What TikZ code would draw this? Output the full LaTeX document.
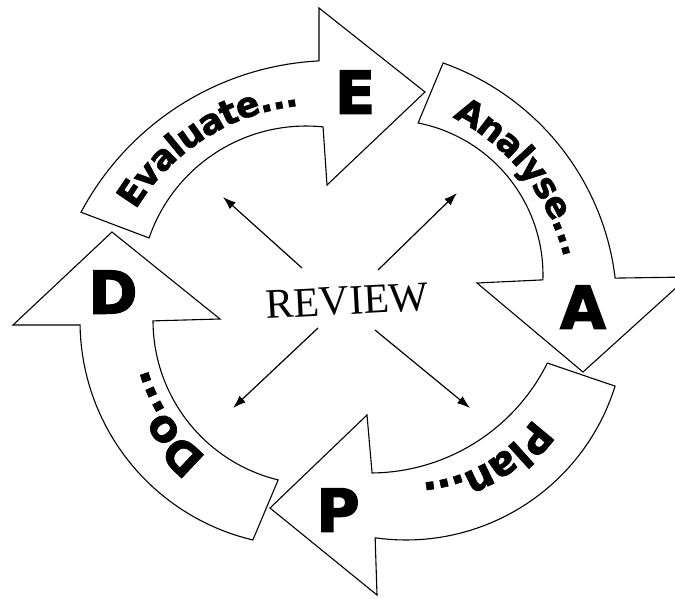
\documentclass[tikz,border=0pt]{standalone}
\usepackage{fontspec}
\setmainfont{Liberation Serif}
\newfontfamily\heavy{DejaVu Sans}[BoldFeatures={FakeBold=1.5}]
\newfontfamily\heavier{DejaVu Sans}[BoldFeatures={FakeBold=2.5}]
\usetikzlibrary{decorations.text,arrows.meta}
\newcommand\evfont{\heavy\bfseries\fontsize{35}{35}\selectfont}
\newcommand\anfont{\heavy\bfseries\fontsize{35}{35}\selectfont}
\newcommand\plfont{\heavy\bfseries\fontsize{40}{40}\selectfont}
\newcommand\dofont{\heavy\bfseries\fontsize{44}{44}\selectfont}
\begin{document}
\begin{tikzpicture}[x=1pt,y=-1pt,
  bigarrow/.style={draw=black, line width=1.1pt, fill=white, line join=miter},
  letter/.style={font=\heavier\bfseries\fontsize{59}{59}\selectfont, inner sep=0pt},
  spoke/.style={line width=1.2pt, -{Latex[length=13pt,width=9pt]}},
  curvetext/.style={decorate, decoration={text along path, text align={center}, #1}}]
\useasboundingbox (0,0) rectangle (675,598);
\clip (0,0) rectangle (675,598);
% D arrow (left, pointing up)
\draw[bigarrow] plot[domain=103.3:179.1, samples=40] ({304.5+224.5*cos(\x)},{321.5+224.5*sin(\x)})
  -- (13,325) -- (112,232) -- (220,319)
  -- plot[domain=179.9:103.7, samples=40] ({317+164*cos(\x)},{320.6+164*sin(\x)}) -- cycle;
% E arrow (top, pointing right)
\draw[bigarrow] plot[domain=-152:-92.9, samples=40] ({333.5+286*cos(\x)},{346.5+286*sin(\x)})
  -- (319,8) -- (425,92) -- (327,185)
  -- plot[domain=-84.1:-161, samples=40] ({306+166*cos(\x)},{292+166*sin(\x)}) -- cycle;
% A arrow (right, pointing down)
\draw[bigarrow] plot[domain=-70.5:-6.8, samples=40] ({356+261*cos(\x)},{309+261*sin(\x)})
  -- (688,277) -- (583,372) -- (477,283)
  -- plot[domain=1.8:-78.8, samples=40] ({388+155*cos(\x)},{275+155*sin(\x)}) -- cycle;
% P arrow (bottom, pointing left)
\draw[bigarrow] plot[domain=17.3:98.1, samples=40] ({406+219*cos(\x)},{321+219*sin(\x)})
  -- (377,595) -- (270,508) -- (367,415)
  -- plot[domain=89.4:26.4, samples=40] ({370+198*cos(\x)},{275+198*sin(\x)}) -- cycle;
% head letters
\node[letter] (lE) at (355,92) {E};
\node[letter] (lA) at (583,307) {A};
\node[letter] (lP) at (338,510) {P};
\node[letter] (lD) at (113,292) {D};
% curved labels
\path[curvetext={text={|\evfont|Evaluate...}, raise=-12.6pt}]
  plot[domain=-162.5:-82.5, samples=80] ({322+230*cos(\x)},{322+230*sin(\x)});
\path[curvetext={text={|\anfont|Analyse...}, raise=-12.6pt}]
  plot[domain=-78.5:1.5, samples=80] ({356+227*cos(\x)},{309+227*sin(\x)});
\path[curvetext={text={|\plfont|Plan...}, raise=-14.6pt}]
  plot[domain=20:100, samples=80] ({409+166*cos(\x)},{332+166*sin(\x)});
\path[curvetext={text={|\dofont|Do...}, raise=-16pt}]
  plot[domain=110:182, samples=80] ({310.6+186*cos(\x)},{322+186*sin(\x)});
% centre
\node[font=\fontsize{42}{42}\selectfont, rotate=3, inner sep=0pt] (rev) at (347,301) {REVIEW};
\coordinate (nwS) at (302,268); \coordinate (nwT) at (223,197);
\coordinate (neS) at (378,270); \coordinate (neT) at (457,193);
\coordinate (swS) at (318,328); \coordinate (swT) at (233,408);
\coordinate (seS) at (375,330); \coordinate (seT) at (470,408);
\draw[spoke] (nwS) -- (nwT);
\draw[spoke] (neS) -- (neT);
\draw[spoke] (swS) -- (swT);
\draw[spoke] (seS) -- (seT);
\end{tikzpicture}
\end{document}
